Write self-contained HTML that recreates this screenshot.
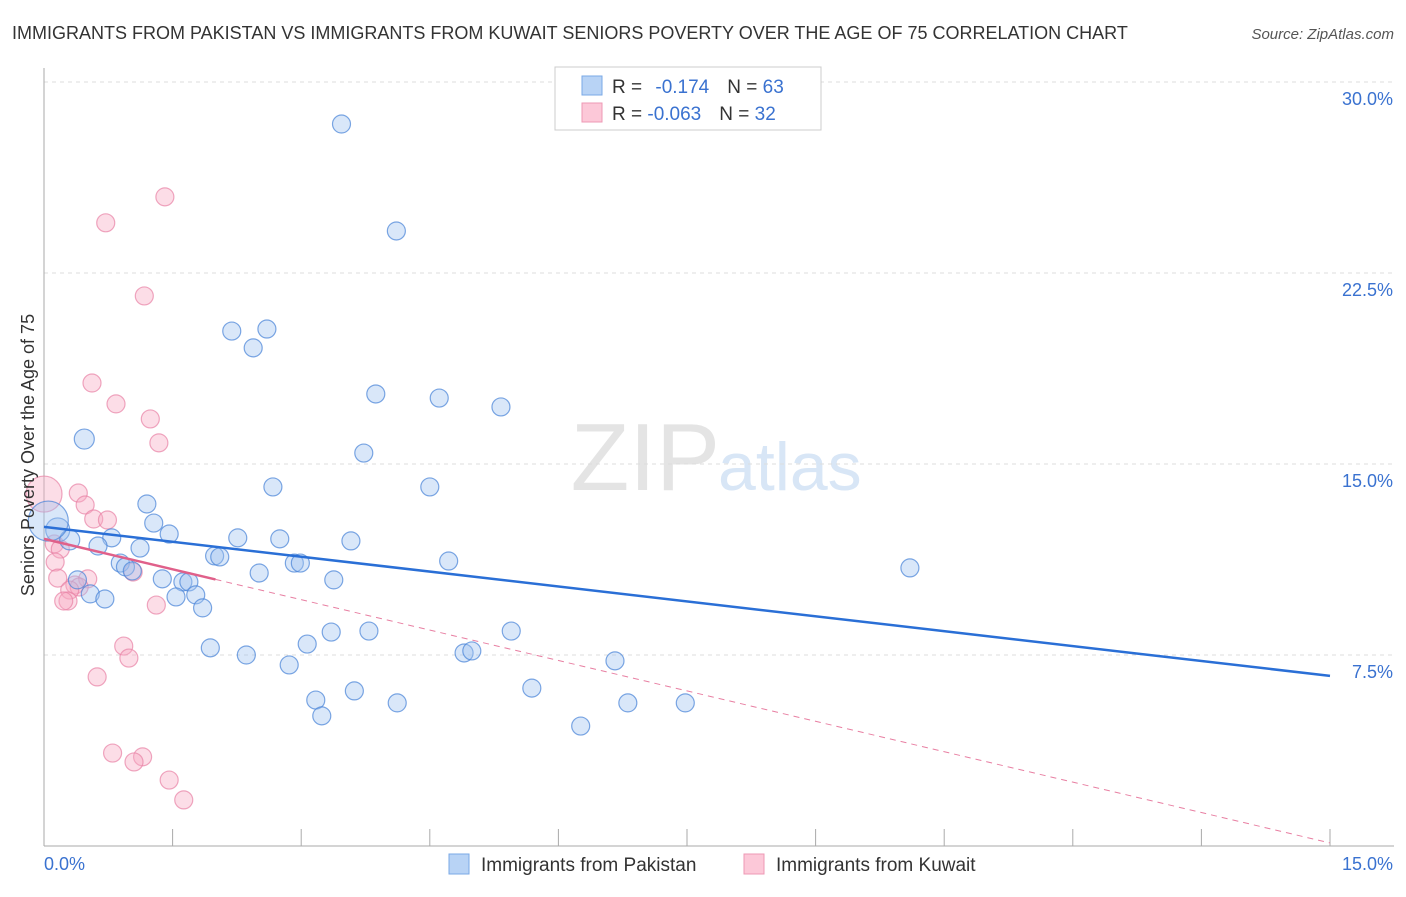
<!DOCTYPE html>
<html><head><meta charset="utf-8"><style>
body{margin:0;background:#fff;font-family:"Liberation Sans",sans-serif;}
svg text{font-family:"Liberation Sans",sans-serif;}
</style></head><body>
<svg width="1406" height="892">
<text x="12" y="39" font-size="18" fill="#333">IMMIGRANTS FROM PAKISTAN VS IMMIGRANTS FROM KUWAIT SENIORS POVERTY OVER THE AGE OF 75 CORRELATION CHART</text>
<text x="1394" y="39" font-size="15" fill="#555" font-style="italic" text-anchor="end">Source: ZipAtlas.com</text>
<text x="720" y="490" font-size="96" fill="#e4e4e4" text-anchor="end" font-family="Liberation Serif">ZIP</text>
<text x="718" y="490" font-size="68" fill="#d8e6f6">atlas</text>
<g id="grid"></g>
<g id="axes"></g>
<g id="pts"></g>
<g id="lines"></g>
<text transform="translate(34,455) rotate(-90)" font-size="18" fill="#333" text-anchor="middle">Seniors Poverty Over the Age of 75</text>
<g>
<rect x="555" y="67" width="266" height="63" fill="#fff" stroke="#ccc"/>
<rect x="582" y="76" width="20" height="19" fill="#b8d3f5" stroke="#7aa8e6"/>
<rect x="582" y="103" width="20" height="19" fill="#fcc8d8" stroke="#ee98b4"/>
<text x="612" y="93" font-size="19" fill="#333">R = <tspan fill="#3a72d0" dx="8">-0.174</tspan><tspan fill="#333" dx="18">N = </tspan><tspan fill="#3a72d0">63</tspan></text>
<text x="612" y="120" font-size="19" fill="#333">R = <tspan fill="#3a72d0">-0.063</tspan><tspan fill="#333" dx="18">N = </tspan><tspan fill="#3a72d0">32</tspan></text>
</g>
<g>
<rect x="449" y="854" width="20" height="20" fill="#b8d3f5" stroke="#7aa8e6"/>
<text x="481" y="871" font-size="19" fill="#333">Immigrants from Pakistan</text>
<rect x="744" y="854" width="20" height="20" fill="#fcc8d8" stroke="#ee98b4"/>
<text x="776" y="871" font-size="19" fill="#333">Immigrants from Kuwait</text>
</g>
</svg>
<script>
const yTicks=[7.5,15,22.5,30];
const yTickLabels=["7.5%","15.0%","22.5%","30.0%"];
const blueX=[3.47,4.11,2.19,2.60,2.44,3.87,4.61,5.33,0.47,3.73,2.67,4.50,1.20,1.28,0.16,0.30,0.79,1.46,2.26,2.75,3.58,0.63,1.12,1.99,2.05,4.72,2.92,2.99,0.89,0.95,1.03,2.51,10.10,0.39,1.38,1.62,1.69,3.38,0.54,0.71,1.54,1.77,1.85,3.35,3.79,5.45,1.94,2.36,3.07,4.90,4.99,6.66,2.86,5.69,3.62,3.17,4.12,6.81,7.48,3.24,6.26,0.05];
const blueY=[28.35,24.15,20.22,20.30,19.56,17.75,17.59,17.24,15.98,15.43,14.10,14.10,13.43,12.68,12.41,12.02,12.10,12.25,12.10,12.06,11.98,11.78,11.70,11.39,11.35,11.19,11.11,11.11,11.11,10.96,10.80,10.72,10.92,10.45,10.49,10.37,10.37,10.45,9.90,9.70,9.78,9.86,9.35,8.40,8.44,8.44,7.78,7.50,7.93,7.58,7.66,7.27,7.11,6.20,6.09,5.73,5.62,5.62,5.62,5.11,4.71,12.76];
const blueR=[9,9,9,9,9,9,9,9,10,9,9,9,9,9,12,10,9,9,9,9,9,9,9,9,9,9,9,9,9,9,9,9,9,9,9,9,9,9,9,9,9,9,9,9,9,9,9,9,9,9,9,9,9,9,9,9,9,9,9,9,9,20];
const pinkX=[1.41,0.72,1.17,0.56,0.84,1.24,1.34,0,0.40,0.48,0.58,0.74,0.12,0.19,0.13,0.16,0.36,0.51,0.41,0.30,0.28,0.23,1.04,1.31,0.93,0.99,0.62,0.80,1.15,1.05,1.46,1.63];
const pinkY=[25.49,24.47,21.60,18.18,17.36,16.77,15.83,13.82,13.86,13.39,12.84,12.80,11.86,11.66,11.15,10.52,10.25,10.49,10.17,10.05,9.62,9.62,10.76,9.46,7.85,7.38,6.64,3.65,3.50,3.30,2.59,1.81];
const pinkR=[9,9,9,9,9,9,9,18,9,9,9,9,9,9,9,9,9,9,9,9,9,9,9,9,9,9,9,9,9,9,9,9];
const blueTrend=[12.53,6.68];
const pinkTrend=[12.06,0.12];
const NS="http://www.w3.org/2000/svg";
const X=v=>44+v/15*1286, Y=v=>846-v/7.5*191;
function mk(t,a,p){const e=document.createElementNS(NS,t);for(const k in a)e.setAttribute(k,a[k]);p.appendChild(e);return e;}
const grid=document.getElementById('grid'),axes=document.getElementById('axes'),pts=document.getElementById('pts'),lines=document.getElementById('lines');
yTicks.forEach((t,i)=>{
 const l=mk('line',{x1:44,x2:1394,y1:Y(t),y2:Y(t),stroke:'#ddd','stroke-dasharray':'4,4'},grid);
 
 
 const tx=mk('text',{x:1393,y:Y(t)+23,'font-size':18,fill:'#3a72d0','text-anchor':'end'},grid);
 tx.textContent=yTickLabels[i];
 
 
});
const ax=mk('line',{x1:44,x2:44,y1:68,y2:846,stroke:'#aaa'},axes);


const bx=mk('line',{x1:44,x2:1394,y1:846,y2:846,stroke:'#aaa'},axes);


for(let i=1;i<=10;i++){const t=mk('line',{x1:X(i*1.5),x2:X(i*1.5),y1:829,y2:846,stroke:'#aaa'},axes);
 
 }
const xl=mk('text',{x:44,y:870,'font-size':18,fill:'#3a72d0'},axes);xl.textContent='0.0%';


const xr=mk('text',{x:1393,y:870,'font-size':18,fill:'#3a72d0','text-anchor':'end'},axes);xr.textContent='15.0%';


pinkX.forEach((x,i)=>{const c=mk('circle',{cx:X(x),cy:Y(pinkY[i]),r:pinkR[i],fill:'rgba(248,170,195,0.4)',stroke:'rgba(232,130,165,0.7)','stroke-width':1.2},pts);
 
 });
blueX.forEach((x,i)=>{const c=mk('circle',{cx:X(x),cy:Y(blueY[i]),r:blueR[i],fill:'rgba(160,195,240,0.4)',stroke:'rgba(70,130,215,0.7)','stroke-width':1.2},pts);
 
 });
const bl=mk('line',{x1:X(0),y1:Y(blueTrend[0]),x2:X(15),y2:Y(blueTrend[1]),stroke:'#2a6fd6','stroke-width':2.5},lines);


const py=x=>pinkTrend[0]+(pinkTrend[1]-pinkTrend[0])*x/15;
const pd=mk('line',{x1:X(2),y1:Y(py(2)),x2:X(15),y2:Y(py(15)),stroke:'#e87fa2','stroke-width':1,'stroke-dasharray':'6,5'},lines);


const ps=mk('line',{x1:X(0),y1:Y(py(0)),x2:X(2),y2:Y(py(2)),stroke:'#e0608a','stroke-width':2.5},lines);


</script>
</body></html>
